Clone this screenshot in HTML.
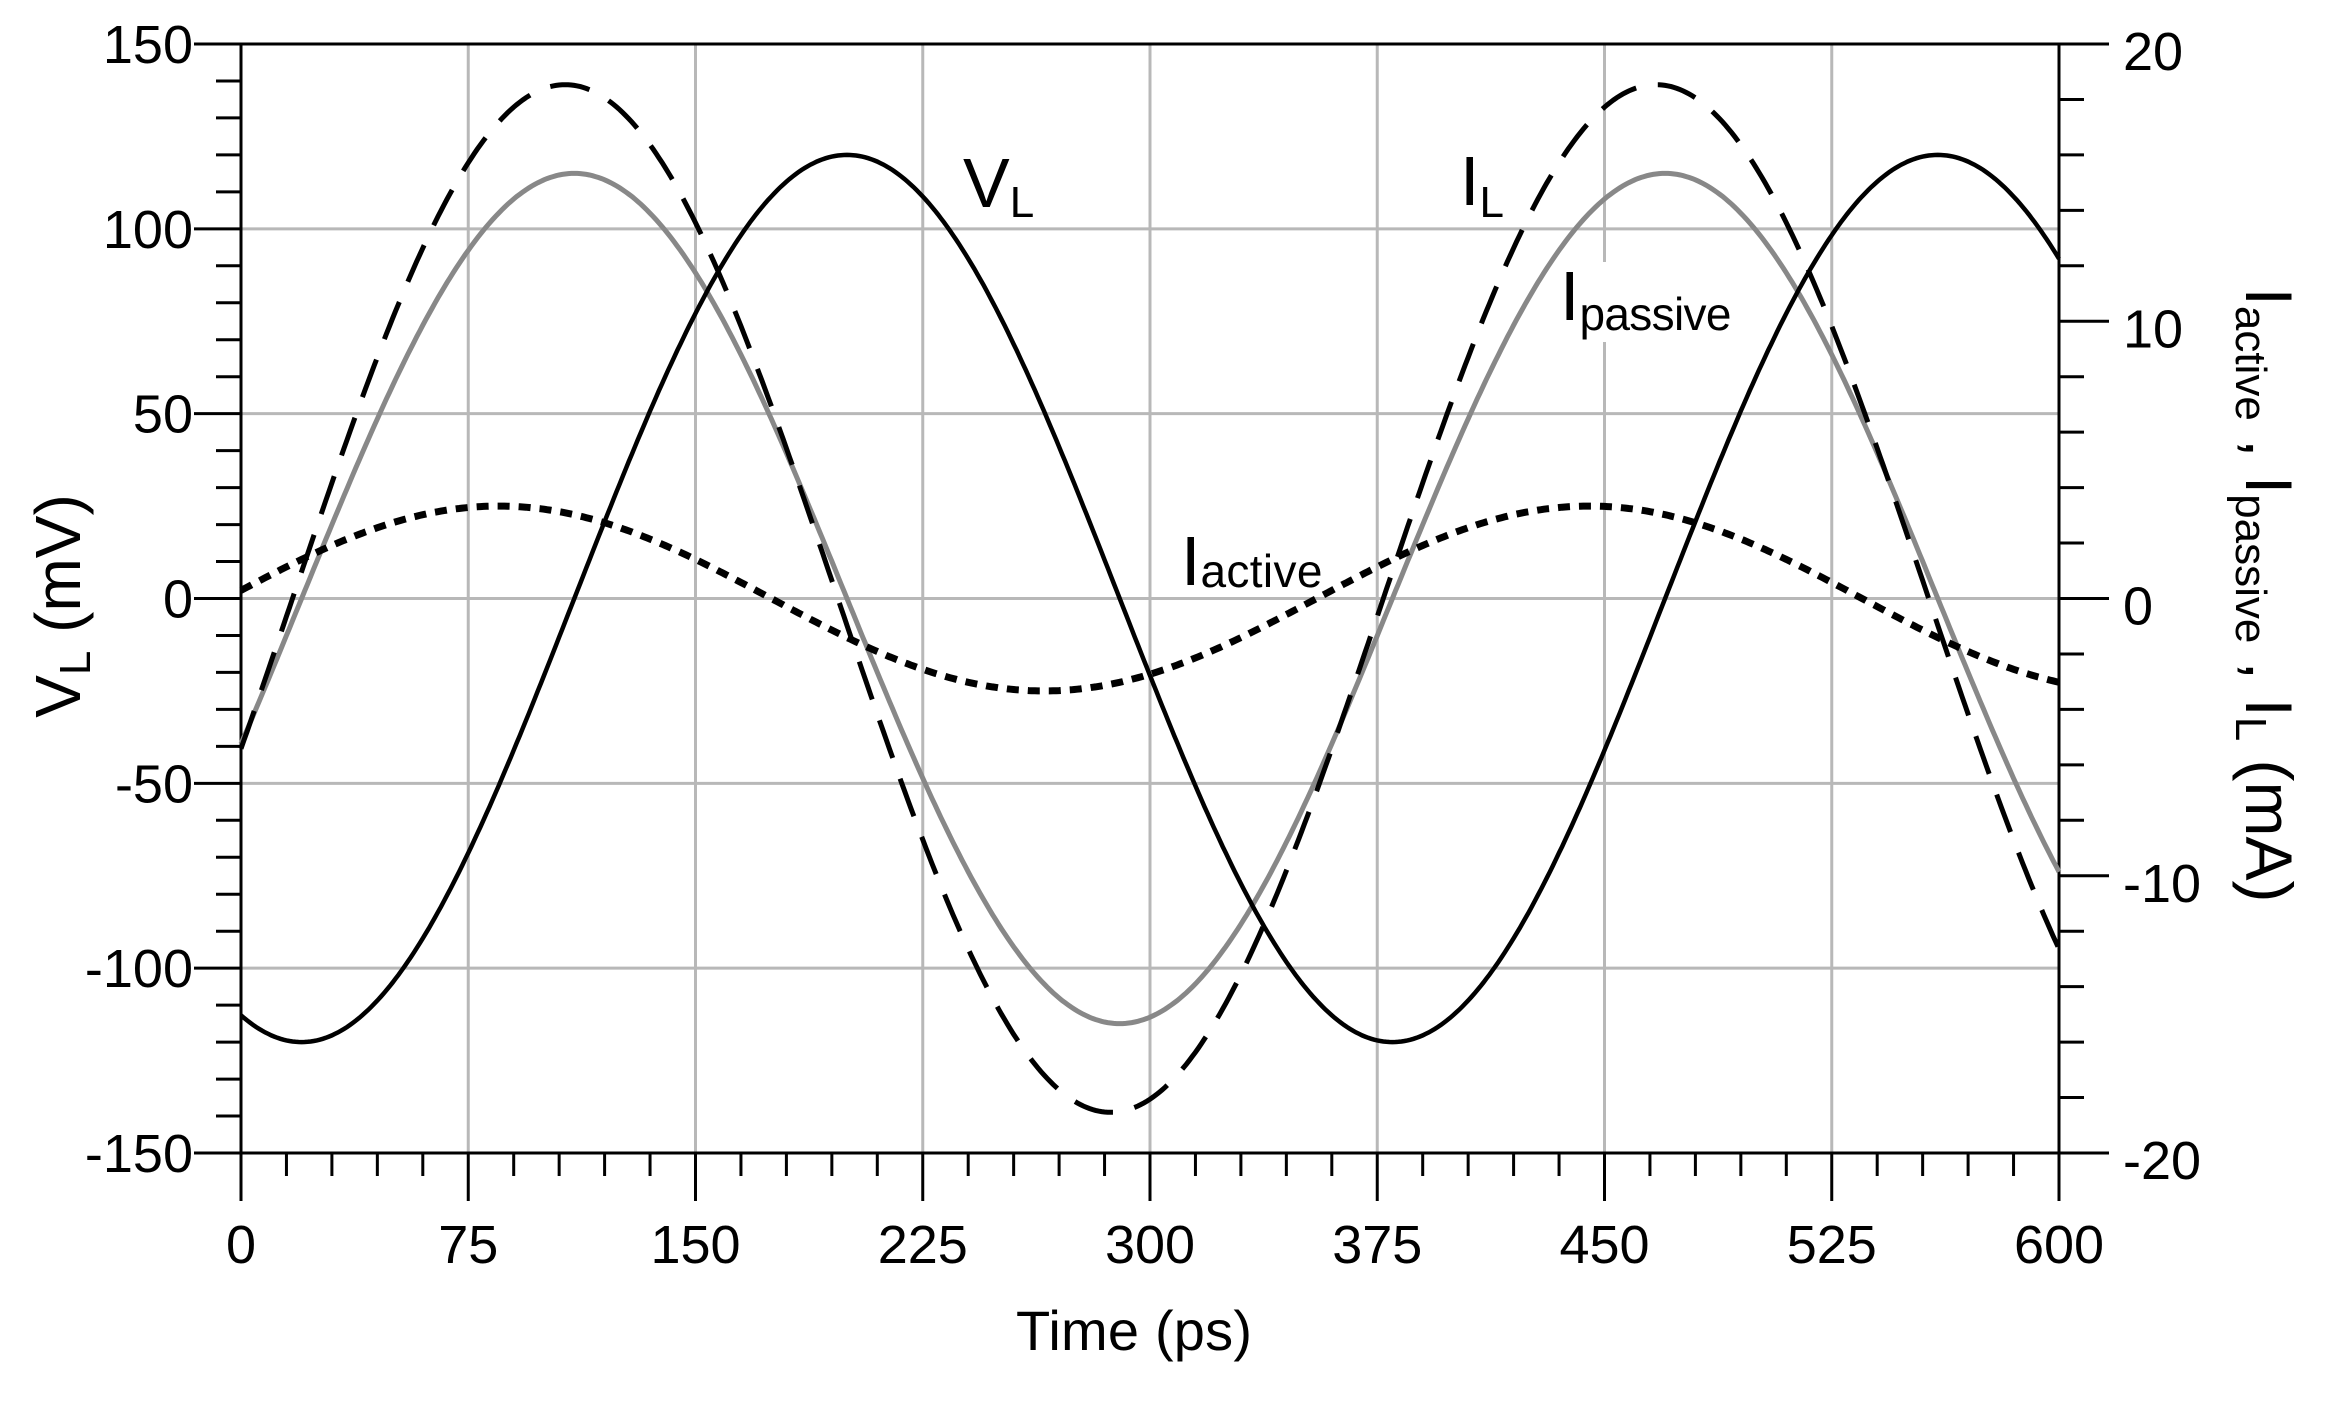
<!DOCTYPE html>
<html><head><meta charset="utf-8"><style>
html,body{margin:0;padding:0;background:#fff;}
svg{display:block;font-family:"Liberation Sans",sans-serif;}
</style></head><body>
<svg id="s" width="2335" height="1401" viewBox="0 0 2335 1401" xmlns="http://www.w3.org/2000/svg">
<rect width="2335" height="1401" fill="#fff"/>
<g id="grid" stroke="#b8b8b8" stroke-width="3"></g>
<g id="ticks" stroke="#000" stroke-width="3"></g>
<g id="curves" fill="none"></g>
<g id="labels" font-size="54" fill="#000"></g>
<!-- series labels -->
<rect x="1560" y="262" width="180" height="80" fill="#fff"/>
<text x="963" y="207" font-size="70">V<tspan font-size="44" dy="10">L</tspan></text>
<text x="1460" y="205" font-size="70">I<tspan font-size="44" dy="12">L</tspan></text>
<text x="1560" y="320" font-size="70">I<tspan font-size="46" dy="10" textLength="152">passive</tspan></text>
<text x="1181" y="585" font-size="70">I<tspan font-size="46" dy="2" textLength="122">active</tspan></text>
<!-- axis titles -->
<text transform="translate(80,606) rotate(-90)" text-anchor="middle" font-size="64">V<tspan font-size="44" dy="10">L</tspan><tspan dy="-10"> (mV)</tspan></text>
<text x="1134" y="1350" text-anchor="middle" font-size="56" textLength="236">Time (ps)</text>
<text transform="translate(2246,595) rotate(90)" text-anchor="middle" font-size="66" textLength="615" lengthAdjust="spacingAndGlyphs">I<tspan font-size="44" dy="10">active</tspan><tspan dy="-10"> , I</tspan><tspan font-size="44" dy="10">passive</tspan><tspan dy="-10"> , I</tspan><tspan font-size="44" dy="10">L</tspan><tspan dy="-10"> (mA)</tspan></text>
</svg>
<script>
var NS="http://www.w3.org/2000/svg";
function X(t){return 241+t*1818/600;}
function Y(v){return 44+(150-v)*1109/300;}
function el(p,tag,a,txt){var e=document.createElementNS(NS,tag);for(var k in a)e.setAttribute(k,a[k]);if(txt!==undefined)e.textContent=txt;document.getElementById(p).appendChild(e);return e;}
for(var t=75;t<600;t+=75)el("grid","line",{x1:X(t),y1:44,x2:X(t),y2:1153});
for(var v=-100;v<=100;v+=50)el("grid","line",{x1:241,y1:Y(v),x2:2059,y2:Y(v)});
el("ticks","line",{x1:241,y1:44,x2:241,y2:1153});
el("ticks","line",{x1:2059,y1:44,x2:2059,y2:1153});
el("ticks","line",{x1:194,y1:44,x2:2109,y2:44});
el("ticks","line",{x1:194,y1:1153,x2:2109,y2:1153});
for(var v=-150;v<=150;v+=10){var y=Y(v);var maj=(v%50===0);el("ticks","line",{x1:maj?194:216,y1:y,x2:241,y2:y});
 if(maj)el("labels","text",{x:193,y:y+19,"text-anchor":"end"},String(v));}
for(var m=-20;m<=20;m+=2){var y=Y(m*7.5);var maj=(m%10===0);el("ticks","line",{x1:2059,y1:y,x2:maj?2109:2084,y2:y});
 if(maj)el("labels","text",{x:2123,y:y+26},String(m));}
for(var t=0;t<=600;t+=15){var x=X(t);var maj=(t%75===0);el("ticks","line",{x1:x,y1:1153,x2:x,y2:maj?1201:1176});
 if(maj)el("labels","text",{x:x,y:1263,"text-anchor":"middle"},String(t));}
function path(f){var d="";for(var t=0;t<=600;t+=1){d+=(t?"L":"M")+X(t).toFixed(1)+","+Y(f(t)).toFixed(1);}return d;}
var r=Math.PI/180;
el("curves","path",{d:path(function(t){return 115*Math.sin((t-20)*r);}),stroke:"#888","stroke-width":5});
el("curves","path",{d:path(function(t){return 120*Math.sin((t-110)*r);}),stroke:"#000","stroke-width":4.5});
el("curves","path",{d:path(function(t){return 139*Math.sin((t-17)*r);}),stroke:"#000","stroke-width":5,"stroke-dasharray":"40 22"});
el("curves","path",{d:path(function(t){return 25*Math.sin((t+5)*r);}),stroke:"#000","stroke-width":7,"stroke-dasharray":"12 9"});
</script>
</body></html>
